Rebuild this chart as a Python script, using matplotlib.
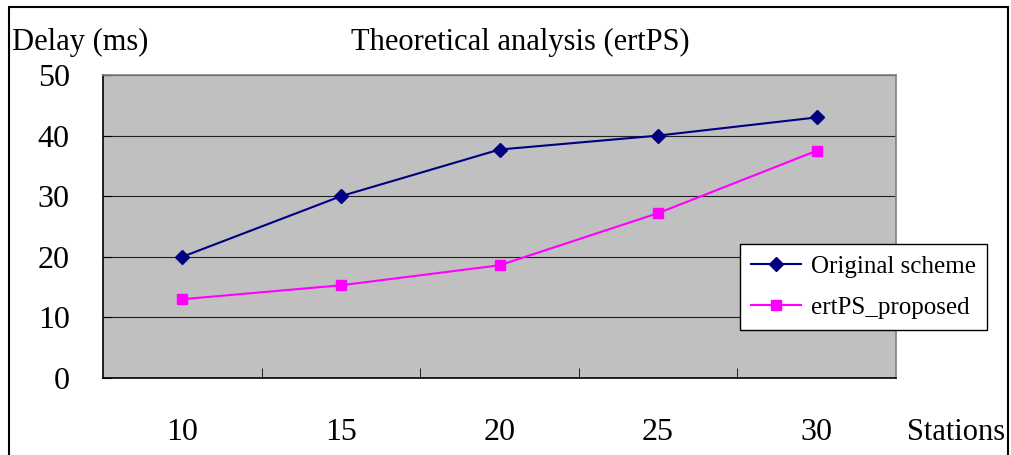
import numpy as np
import matplotlib.pyplot as plt
from matplotlib.patches import Rectangle

stations = ["10", "15", "20", "25", "30"]
original = [20.0, 30.0, 37.7, 40.0, 43.0]
proposed = [13.0, 15.3, 18.6, 27.2, 37.5]
yticks = [0, 10, 20, 30, 40, 50]

plt.rcParams["font.family"] = ["Liberation Serif", "DejaVu Serif"]

fig = plt.figure(figsize=(10.12, 4.55), dpi=100)
ax = fig.add_axes([103 / 1012, 77 / 455, 793 / 1012, 303 / 455])
ax.set_facecolor("#c0c0c0")

x = np.arange(len(stations))
ax.plot(x, original, color="#000080", marker="D", markersize=7, lw=1.5,
        label="Original scheme")
ax.plot(x, proposed, color="#ff00ff", marker="s", markersize=7, lw=1.5,
        label="ertPS_proposed")

ax.set_xlim(-0.5, len(stations) - 0.5)
ax.set_ylim(0, 50)
ax.set_yticks(yticks)
ax.set_yticklabels([str(v) for v in yticks], fontsize=23)
ax.set_xticks(x)
ax.set_xticklabels(stations, fontsize=23)
ax.set_xticks(np.arange(len(stations) - 1) + 0.5, minor=True)
ax.tick_params(axis="x", which="major", length=0, pad=29)
ax.tick_params(axis="x", which="minor", direction="in", length=7, color="black")
ax.tick_params(axis="y", which="major", direction="in", length=6, pad=24)
ax.grid(axis="y", color="#202020", lw=0.8)
ax.set_axisbelow(True)

for s in ["left", "bottom"]:
    ax.spines[s].set_color("black")
    ax.spines[s].set_linewidth(1.2)
for s in ["top", "right"]:
    ax.spines[s].set_color("#808080")
    ax.spines[s].set_linewidth(1.2)

leg = ax.legend(loc="upper left", bbox_to_anchor=(740 / 1012, 1 - 244 / 455),
                bbox_transform=fig.transFigure, fontsize=18, frameon=True,
                fancybox=False, framealpha=1, edgecolor="black",
                handlelength=2.0, handletextpad=0.4, borderpad=0.45,
                labelspacing=0.75, borderaxespad=0)
leg.get_frame().set_linewidth(1.0)

fig.text(12 / 1012, 1 - 42 / 455, "Delay (ms)", fontsize=22, va="center", ha="left")
fig.text(520 / 1012, 1 - 42 / 455, "Theoretical analysis (ertPS)", fontsize=22,
         va="center", ha="center")
fig.text(1005 / 1012, 1 - 432 / 455, "Stations", fontsize=22, va="center", ha="right")

fig.patches.append(Rectangle((9 / 1012, -0.05), 999 / 1012, 1 - 7 / 455 + 0.05,
                             transform=fig.transFigure, fill=False,
                             edgecolor="black", lw=1.5))

fig.savefig("out.png", dpi=100)
